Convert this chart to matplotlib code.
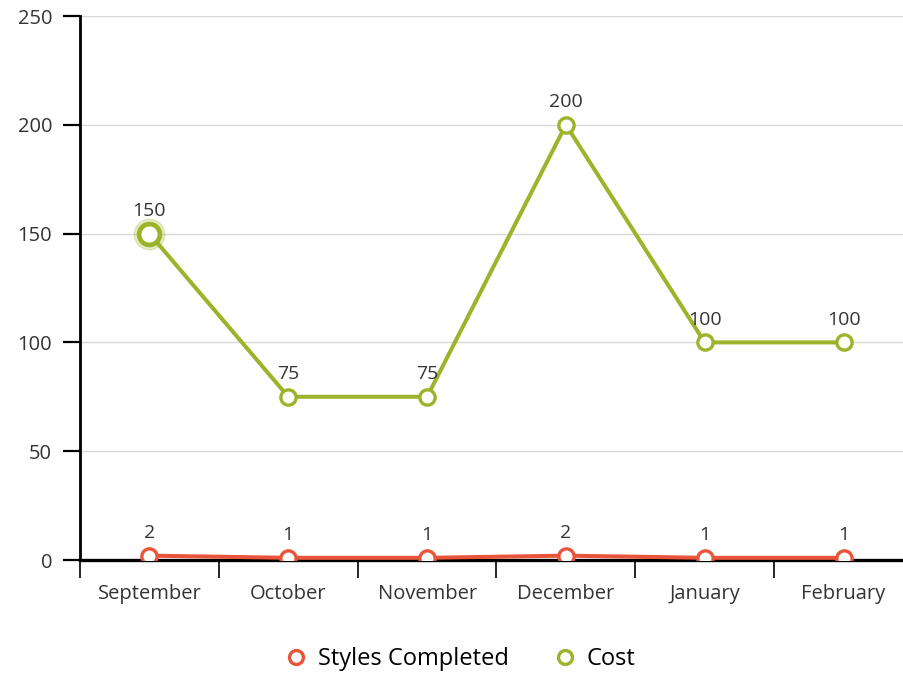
import matplotlib.pyplot as plt

plt.rcParams['font.family'] = ['Open Sans', 'DejaVu Sans']

months = ['September', 'October', 'November', 'December', 'January', 'February']
styles_completed = [2, 1, 1, 2, 1, 1]
cost = [150, 75, 75, 200, 100, 100]

red = '#e8553a'
green = '#9cb42a'

fig = plt.figure(figsize=(9.04, 6.75), dpi=100)
ax = fig.add_axes([80/904, 1 - 560/675, (913 - 80)/904, (560 - 16)/675])

x = list(range(len(months)))

ax.plot(x, styles_completed, color=red, lw=2.9, marker='o', ms=11,
        mfc='white', mec=red, mew=2.4, zorder=4, label='Styles Completed')
ax.plot(x, cost, color=green, lw=2.9, marker='o', ms=11,
        mfc='white', mec=green, mew=2.4, zorder=3, label='Cost')

# highlighted first point of Cost
ax.plot(x[0], cost[0], marker='o', ms=22, color=green, alpha=0.25, zorder=2)
ax.plot(x[0], cost[0], marker='o', ms=15, mfc='white', mec=green, mew=3.4, zorder=5)

for xi, v in zip(x, styles_completed):
    ax.annotate(str(v), (xi, v), xytext=(0, 10), textcoords='offset points',
                ha='center', va='bottom', fontsize=14, color='#333333')
for xi, v in zip(x, cost):
    ax.annotate(str(v), (xi, v), xytext=(0, 10), textcoords='offset points',
                ha='center', va='bottom', fontsize=14, color='#333333')

ax.set_xlim(-0.5, 5.5)
ax.set_ylim(0, 250)
ax.set_yticks([0, 50, 100, 150, 200, 250])
ax.set_xticks(x)
ax.set_xticklabels(months)
ax.set_xticks([i - 0.5 for i in range(len(months))], minor=True)

ax.grid(axis='y', color='#d9d9d9', lw=1)
ax.set_axisbelow(True)

for s in ['top', 'right']:
    ax.spines[s].set_visible(False)
ax.spines['left'].set_linewidth(2)
ax.spines['bottom'].set_linewidth(2.4)
ax.spines['left'].set_color('black')
ax.spines['bottom'].set_color('black')

ax.tick_params(axis='y', length=12, width=1.6, color='black', labelsize=14.5,
               labelcolor='#333333', pad=8)
ax.tick_params(axis='x', which='major', length=0, labelsize=14.5,
               labelcolor='#333333', pad=17)
ax.tick_params(axis='x', which='minor', length=13, width=1.2, color='black')

leg = fig.legend(handles=ax.get_lines()[:2], loc='center', bbox_to_anchor=(0.51, 1 - 659/675),
                 ncol=2, frameon=False, fontsize=17, handlelength=0.8,
                 columnspacing=2.0, handletextpad=0.5)
for h in leg.legend_handles:
    h.set_linestyle('none')
    h.set_markersize(10)

fig.savefig('out.png', dpi=100)
